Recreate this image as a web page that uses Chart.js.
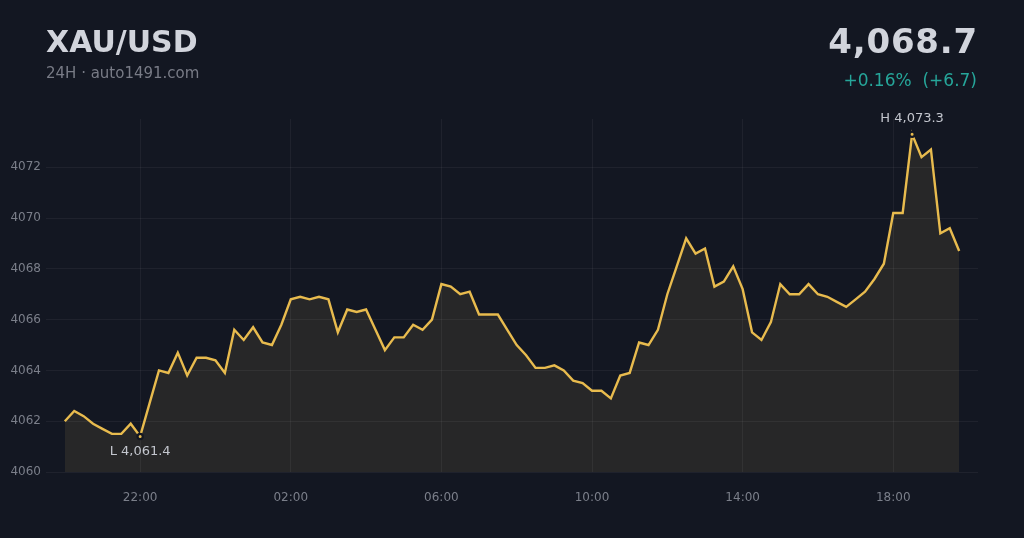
<!DOCTYPE html>
<html>
<head>
<meta charset="utf-8">
<script src="https://cdn.jsdelivr.net/npm/chart.js@4/dist/chart.umd.min.js"></script>
<style>
  html, body { margin: 0; padding: 0; background: #131722; }
  body { width: 1024px; height: 538px; position: relative; overflow: hidden; font-family: "DejaVu Sans", sans-serif; }
  #wrap { position: absolute; left: 0; top: 0; width: 1024px; height: 538px; }
  .hdr { position: absolute; line-height: 1; white-space: nowrap; }
  #sym { left: 46px; top: 27px; font-size: 30px; font-weight: bold; color: #d1d4dc; }
  #sub { left: 46px; top: 66px; font-size: 15px; color: #787b86; }
  #price { right: 46px; top: 24px; font-size: 34px; font-weight: bold; color: #d1d4dc; letter-spacing: 0.8px; }
  #chg { right: 47px; top: 72px; font-size: 17px; color: #26a69a; }
</style>
</head>
<body>
<div id="wrap"><canvas id="xauChart" width="1024" height="538"></canvas></div>
<div class="hdr" id="sym"></div>
<div class="hdr" id="sub"></div>
<div class="hdr" id="price"></div>
<div class="hdr" id="chg"></div>
<script>
const simbolo = "XAU/USD";
const subtitulo = "24H · auto1491.com";

// precio cada 15 min, 20:00 -> 19:45
const precios = [
  4062.0, 4062.4, 4062.2, 4061.9, 4061.7, 4061.5, 4061.5, 4061.9,
  4061.4, 4062.7, 4064.0, 4063.9, 4064.7, 4063.8, 4064.5, 4064.5,
  4064.4, 4063.9, 4065.6, 4065.2, 4065.7, 4065.1, 4065.0, 4065.8,
  4066.8, 4066.9, 4066.8, 4066.9, 4066.8, 4065.5, 4066.4, 4066.3,
  4066.4, 4065.6, 4064.8, 4065.3, 4065.3, 4065.8, 4065.6, 4066.0,
  4067.4, 4067.3, 4067.0, 4067.1, 4066.2, 4066.2, 4066.2, 4065.6,
  4065.0, 4064.6, 4064.1, 4064.1, 4064.2, 4064.0, 4063.6, 4063.5,
  4063.2, 4063.2, 4062.9, 4063.8, 4063.9, 4065.1, 4065.0, 4065.6,
  4067.0, 4068.1, 4069.2, 4068.6, 4068.8, 4067.3, 4067.5, 4068.1,
  4067.2, 4065.5, 4065.2, 4065.9, 4067.4, 4067.0, 4067.0, 4067.4,
  4067.0, 4066.9, 4066.7, 4066.5, 4066.8, 4067.1, 4067.6, 4068.2,
  4070.2, 4070.2, 4073.3, 4072.4, 4072.7, 4069.4, 4069.6, 4068.7
];

// etiquetas del eje x (indice del punto de 15 min)
const horasIdx = [8, 24, 40, 56, 72, 88];
const horasTxt = ["22:00", "02:00", "06:00", "10:00", "14:00", "18:00"];

const yTicks = [4060, 4062, 4064, 4066, 4068, 4070, 4072];
const yMin = 4060;
const yMax = 4073.9;

const fmt = v => v.toLocaleString("en-US", { minimumFractionDigits: 1, maximumFractionDigits: 1 });

// ===============================
// Cabecera
// ===============================
const ultimo = precios[precios.length - 1];
const cambio = ultimo - precios[0];
const pct = cambio / precios[0] * 100;
const signo = cambio >= 0 ? "+" : "-";

document.getElementById("sym").textContent = simbolo;
document.getElementById("sub").textContent = subtitulo;
document.getElementById("price").textContent = fmt(ultimo);
document.getElementById("chg").textContent =
  `${signo}${Math.abs(pct).toFixed(2)}%\u00a0\u00a0(${signo}${Math.abs(cambio).toFixed(1)})`;

let idxMin = 0, idxMax = 0;
precios.forEach((p, i) => {
  if (p < precios[idxMin]) idxMin = i;
  if (p > precios[idxMax]) idxMax = i;
});

const oro = "#e8bb4e";

// ===============================
// Etiquetas H / L
// ===============================
const etiquetasHL = {
  id: "etiquetasHL",
  afterDatasetsDraw(chart) {
    const pts = chart.getDatasetMeta(0).data;
    const ctx = chart.ctx;
    ctx.save();
    ctx.font = "13px 'DejaVu Sans'";
    ctx.textAlign = "center";
    ctx.textBaseline = "alphabetic";
    ctx.fillStyle = "#c3c6ce";
    const h = pts[idxMax], l = pts[idxMin];
    ctx.fillText("H " + fmt(precios[idxMax]), h.x, h.y - 12);
    ctx.fillText("L " + fmt(precios[idxMin]), l.x, l.y + 19);
    ctx.restore();
  }
};

new Chart(document.getElementById("xauChart"), {
  type: "line",
  data: {
    datasets: [{
      data: precios.map((p, i) => ({ x: i, y: p })),
      borderColor: oro,
      borderWidth: 2.4,
      tension: 0,
      fill: "start",
      backgroundColor: "rgba(40,40,40,0.97)",
      pointRadius: precios.map((p, i) => (i === idxMin || i === idxMax) ? 2.6 : 0),
      pointBackgroundColor: oro,
      pointBorderColor: "#131722",
      pointBorderWidth: 2.2,
      pointHoverRadius: 0
    }]
  },
  options: {
    responsive: false,
    animation: false,
    layout: { padding: { left: 0, right: 46, top: 119, bottom: 0 } },
    plugins: {
      legend: { display: false },
      tooltip: { enabled: false },
      filler: { drawTime: "beforeDraw" }
    },
    scales: {
      x: {
        type: "linear",
        min: -2,
        max: 97,
        afterBuildTicks: s => { s.ticks = horasIdx.map(v => ({ value: v })); },
        afterFit: s => { s.height = 66; },
        ticks: {
          padding: 19,
          color: "#7b7f8a",
          font: { family: "DejaVu Sans", size: 12 },
          callback: v => horasTxt[horasIdx.indexOf(v)]
        },
        grid: { color: "rgba(255,255,255,0.05)", drawTicks: false },
        border: { display: false }
      },
      y: {
        min: yMin,
        max: yMax,
        afterBuildTicks: s => { s.ticks = yTicks.map(v => ({ value: v })); },
        afterFit: s => { s.width = 46; },
        ticks: {
          padding: 5,
          color: "#7b7f8a",
          font: { family: "DejaVu Sans", size: 12 },
          callback: v => String(v)
        },
        grid: { color: "rgba(255,255,255,0.05)", drawTicks: false },
        border: { display: false }
      }
    }
  },
  plugins: [etiquetasHL]
});
</script>
</body>
</html>
